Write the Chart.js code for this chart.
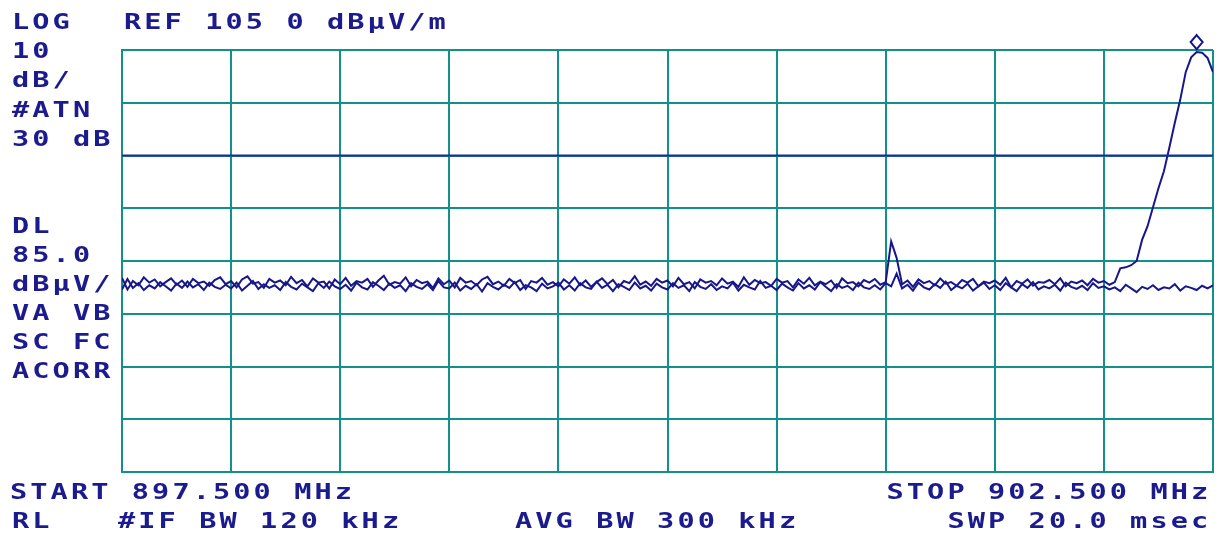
<!DOCTYPE html>
<html>
<head>
<meta charset="utf-8">
<script src="https://cdn.jsdelivr.net/npm/chart.js@4.4.1/dist/chart.umd.min.js"></script>
<style>
  html, body { margin: 0; padding: 0; background: #fff; }
  canvas { display: block; }
</style>
</head>
<body>
<canvas id="sa" width="1222" height="537"></canvas>
<script>
// Sweep settings
const startMHz = 897.5;
const stopMHz = 902.5;
const bottomDb = 25;
const refDb = 105;
const displayLineDb = 85;

// Trace A (noise, spur near 901 MHz, carrier rising at the right edge)
const traceA = [
  61.8, 59.6, 61.2, 60.4, 61.9, 60.9, 61.5, 60.2, 61.0, 61.7, 60.5, 61.3, 60.1, 61.6, 60.8, 61.1, 60.3, 61.4, 61.9, 60.6,
  61.2, 60.0, 61.5, 62.1, 60.7, 61.0, 59.9, 61.6, 60.9, 61.3, 60.4, 62.0, 60.8, 61.4, 60.2, 61.7, 60.9, 61.1, 59.8, 61.5,
  60.6, 61.8, 60.3, 61.2, 60.9, 61.6, 60.1, 61.3, 62.2, 60.5, 61.0, 60.7, 61.9, 60.2, 61.4, 60.8, 61.1, 59.9, 61.7, 60.6,
  61.3, 60.0, 61.8, 60.9, 61.2, 60.4, 61.5, 62.0, 60.6, 61.1, 60.3, 61.6, 60.8, 61.4, 59.7, 61.2, 60.9, 61.8, 60.5, 61.0,
  60.2, 61.5, 60.7, 61.9, 60.4, 61.3, 60.1, 61.0, 61.7, 60.6, 61.4, 60.0, 61.2, 60.8, 62.1, 60.5, 61.1, 60.3, 61.6, 60.9,
  61.3, 60.2, 61.8, 60.6, 61.0, 59.8, 61.5, 60.9, 61.2, 60.4, 61.7, 60.7, 61.1, 60.1, 61.9, 60.5, 61.4, 60.8, 61.0, 60.3,
  61.6, 60.9, 61.2, 60.0, 61.5, 60.7, 61.8, 60.4, 61.1, 60.6, 61.3, 59.9, 61.7, 60.8, 61.0, 60.2, 61.4, 60.9, 61.6, 60.5,
  61.0, 68.7, 65.6, 60.6, 61.3, 60.1, 61.5, 60.8, 61.2, 60.4, 61.7, 60.7, 61.0, 60.3, 61.4, 60.9, 61.6, 60.2, 61.1, 60.8,
  61.3, 60.5, 61.8, 60.0, 61.2, 60.7, 61.5, 60.3, 61.0, 60.9, 61.4, 60.6, 61.7, 60.2, 61.1, 60.8, 61.3, 60.4, 61.6, 60.9,
  61.2, 60.5, 61.0,
  63.6, 63.8, 64.2, 65.0, 69.0, 71.6, 75.2, 78.8, 82.0, 86.5, 91.2, 95.6, 100.8, 103.6, 104.6, 104.5, 103.5, 100.8
];

// Trace B (noise only)
const traceB = [
  59.6, 61.6, 59.9, 60.8, 59.5, 60.4, 59.8, 61.0, 60.2, 59.4, 60.7, 59.9, 61.1, 60.0, 60.6, 59.5, 60.9, 60.1, 59.7, 60.5,
  59.8, 60.9, 59.4, 60.3, 61.2, 59.7, 60.6, 59.9, 60.4, 59.5, 61.0, 60.1, 59.6, 60.7, 60.0, 59.3, 60.8, 59.9, 61.1, 60.2,
  59.7, 60.5, 59.4, 60.9, 60.0, 59.6, 61.0, 60.3, 59.5, 60.7, 59.9, 60.4, 59.3, 60.8, 60.1, 59.7, 60.6, 59.5, 61.2, 60.0,
  59.8, 60.9, 59.4, 60.3, 59.7, 60.6, 59.2, 60.8, 60.1, 59.6, 60.5, 59.9, 61.0, 59.5, 60.4, 60.0, 59.3, 60.7, 59.8, 60.2,
  60.9, 59.6, 60.4, 59.4, 60.8, 60.0, 59.7, 61.1, 59.9, 60.5, 59.3, 60.6, 60.1, 59.5, 60.9, 59.8, 60.3, 59.4, 60.7, 60.0,
  59.6, 60.8, 59.9, 60.4, 59.3, 61.0, 60.1, 59.7, 60.6, 59.5, 60.2, 59.8, 60.9, 59.4, 60.5, 60.0, 59.6, 61.2, 59.9, 60.3,
  59.5, 60.7, 60.0, 59.4, 60.8, 59.8, 60.4, 59.6, 61.0, 60.1, 59.3, 60.6, 59.9, 60.3, 59.5, 60.9, 60.0, 59.7, 60.4, 59.6,
  60.8, 60.2, 62.6, 59.8, 60.5, 59.4, 60.9, 60.0, 59.6, 60.6, 59.9, 61.1, 59.5, 60.3, 59.8, 60.7, 59.4, 60.2, 60.9, 59.7,
  60.4, 59.5, 60.8, 60.0, 59.3, 60.6, 59.9, 61.0, 59.6, 60.2, 59.8, 60.5, 59.4, 60.9, 60.1, 59.7, 60.3, 59.5, 60.8, 59.9,
  60.2, 59.6, 60.0, 59.3, 60.5, 59.8, 59.1, 60.1, 59.7, 60.4, 59.5, 60.0, 59.8, 60.6, 59.4, 60.2, 59.9, 59.5, 60.3, 59.8,
  60.4
];

const markerIndex = 197;

// Screen annotations: [text, x, baseline, align]
const leftLabels = ['LOG', '10', 'dB/', '#ATN', '30 dB'];
const leftLabelsLow = ['DL', '85.0', 'dBµV/', 'VA VB', 'SC FC', 'ACORR'];
const headerText = 'REF 105 0 dBµV/m';
const footerTexts = [
  ['START 897.500 MHz', 10, 499, 'left'],
  ['RL', 12, 528, 'left'],
  ['#IF BW 120 kHz', 118, 528, 'left'],
  ['AVG BW 300 kHz', 515, 528, 'left'],
  ['STOP 902.500 MHz', 1207, 499, 'right'],
  ['SWP 20.0 msec', 1207, 528, 'right'],
];

const freqs = traceA.map((_, i) => startMHz + i * (stopMHz - startMHz) / (traceA.length - 1));

const gridColor = '#12908a';
const traceColor = '#17178a';
const textColor = '#1b1b8e';

// draw text one char at a time, like the analyzer's fixed-pitch font
function hpText(ctx, str, x, y, align) {
  const pitch = 20.3;
  const w = pitch * (str.length - 1) + 16;
  const x0 = align === 'right' ? x - w : x;
  for (let i = 0; i < str.length; i++) {
    ctx.save();
    ctx.translate(x0 + i * pitch, y);
    ctx.scale(1.3, 1);
    ctx.fillText(str[i], 0, 0);
    ctx.restore();
  }
}

const screenText = {
  id: 'screenText',
  afterDraw(chart) {
    const ctx = chart.ctx;
    ctx.save();
    ctx.fillStyle = textColor;
    ctx.font = 'bold 22px "DejaVu Sans Mono"';
    ctx.textBaseline = 'alphabetic';
    ctx.textAlign = 'left';
    leftLabels.forEach((t, i) => hpText(ctx, t, 12, 29 + i * 29.2, 'left'));
    leftLabelsLow.forEach((t, i) => hpText(ctx, t, 12, 233 + i * 29, 'left'));
    hpText(ctx, headerText, 124, 29, 'left');
    footerTexts.forEach(([t, x, y, a]) => hpText(ctx, t, x, y, a));
    ctx.restore();
  }
};

const peakMarker = {
  id: 'peakMarker',
  afterDatasetsDraw(chart) {
    const { ctx, scales: { x, y } } = chart;
    const px = x.getPixelForValue(freqs[markerIndex]);
    const py = y.getPixelForValue(traceA[markerIndex]) - 10;
    ctx.save();
    ctx.strokeStyle = traceColor;
    ctx.lineWidth = 2;
    ctx.beginPath();
    ctx.moveTo(px, py - 7);
    ctx.lineTo(px + 6, py);
    ctx.lineTo(px, py + 7);
    ctx.lineTo(px - 6, py);
    ctx.closePath();
    ctx.stroke();
    ctx.restore();
  }
};

new Chart(document.getElementById('sa').getContext('2d'), {
  type: 'line',
  data: {
    datasets: [
      {
        label: 'Display line',
        data: [{ x: startMHz, y: displayLineDb }, { x: stopMHz, y: displayLineDb }],
        borderColor: '#26269c',
        borderWidth: 2,
        pointRadius: 0,
      },
      {
        label: 'Trace B',
        data: freqs.map((f, i) => ({ x: f, y: traceB[i] })),
        borderColor: traceColor,
        borderWidth: 2,
        pointRadius: 0,
        tension: 0,
      },
      {
        label: 'Trace A',
        data: freqs.map((f, i) => ({ x: f, y: traceA[i] })),
        borderColor: traceColor,
        borderWidth: 2,
        pointRadius: 0,
        tension: 0,
      },
    ],
  },
  options: {
    responsive: false,
    animation: false,
    devicePixelRatio: 1,
    layout: { padding: { left: 122, right: 9, top: 50, bottom: 65 } },
    plugins: { legend: { display: false }, tooltip: { enabled: false } },
    scales: {
      x: {
        type: 'linear',
        min: startMHz,
        max: stopMHz,
        ticks: { display: false, stepSize: 0.5 },
        grid: { color: gridColor, lineWidth: 2, drawTicks: false },
        border: { color: gridColor, width: 2 },
      },
      y: {
        min: bottomDb,
        max: refDb,
        ticks: { display: false, stepSize: 10 },
        grid: { color: gridColor, lineWidth: 2, drawTicks: false },
        border: { color: gridColor, width: 2 },
      },
    },
  },
  plugins: [peakMarker, screenText],
});
</script>
</body>
</html>
